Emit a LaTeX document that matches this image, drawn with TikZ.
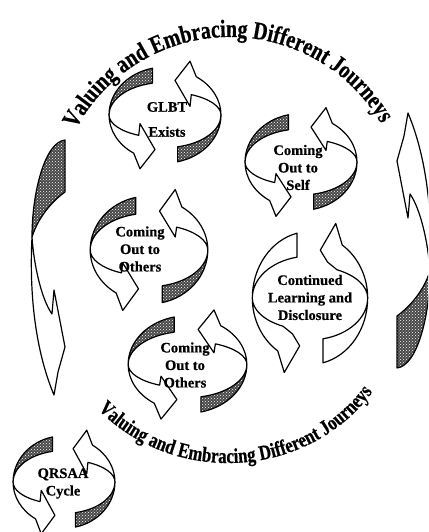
\documentclass[tikz,border=0pt]{standalone}
\usepackage{fontspec}
\setmainfont{Liberation Serif}
\newfontfamily\arcfont{Liberation Serif}[UprightFont={* Bold},FakeStretch=0.8,FakeBold=0.6]
\newfontfamily\labelfont{Liberation Serif}[UprightFont={* Bold},FakeBold=0.5]
\usetikzlibrary{decorations.text,patterns}

\tikzset{
  arrowface/.style={draw=black,fill=white,line width=1.2pt,line join=round},
  speckle/.style={draw=black,line width=1.2pt,line join=round,
    preaction={fill=black!72},pattern=crosshatch dots,pattern color=white},
  cyclelabel/.style={align=center,font=\labelfont\fontsize{14.5}{17.5}\selectfont},
  % two twisted ribbon arrows chasing each other round an ellipse
  % #1 tail style, #2 inner radius of the tail, #3 inner barb of the head
  pics/cyclearrows/.style n args={3}{code={
    \foreach \r in {0,180}{
      \begin{scope}[rotate=\r]
        \draw[#1] (103:56 and 50) arc[start angle=103,end angle=180,x radius=56,y radius=50]
          arc[start angle=180,end angle=103,x radius=56,y radius=#2] -- cycle;
        \draw[arrowface] (-56,0) arc[start angle=180,end angle=236,x radius=56,y radius=48]
          -- (-25,-56) -- (-10,-36) -- #3 -- (242:56 and 24)
          arc[start angle=242,end angle=180,x radius=56,y radius=24] -- cycle;
      \end{scope}
    }
  }}
}

\begin{document}
\begin{tikzpicture}[x=1pt,y=1pt]
  \clip (0,0) rectangle (428,532);
  \fill[white] (0,0) rectangle (428,532);

  % Big journey arrows round the whole picture
  \foreach \r in {0,180}{
    \begin{scope}[rotate around={\r:(231,278)}]
      \draw[speckle] (65,392) .. controls (45,390) and (32,340) .. (32,295)
        .. controls (40,320) and (58,335) .. (65,340) -- cycle;
      \draw[arrowface] (32,295) .. controls (29,235) and (36,180) .. (54,137)
        -- (58,160) -- (65,185) -- (54,242) -- (52,218)
        .. controls (42,232) and (34,265) .. (32,295) -- cycle;
    \end{scope}
  }

  % Arched titles
  \path[decorate,decoration={text along path,text align=center,
      text={|\arcfont\fontsize{25}{25}\selectfont|Valuing and Embracing Different Journeys}}]
    (64.53,376.97) arc[start angle=161,end angle=21,radius=175];
  \path[decorate,decoration={text along path,text align=center,
      text={|\arcfont\fontsize{21}{21}\selectfont|Valuing and Embracing Different Journeys}}]
    (68.1,165.7) arc[start angle=204,end angle=344,x radius=175,y radius=163];

  % Small cycles
  \pic[yscale=0.96] at (165,417) {cyclearrows={speckle}{34}{(-25,-9)}};
  \pic[yscale=0.97] at (301,370) {cyclearrows={speckle}{34}{(-25,-12)}};
  \pic[xscale=1.05,yscale=1.08] at (149,282) {cyclearrows={speckle}{34}{(-25,-12)}};
  \pic[xscale=1.03,yscale=1.33] at (310,234) {cyclearrows={arrowface}{31.5}{(-17,-27)}};
  \pic[xscale=1.06,yscale=0.975] at (187.5,167.5) {cyclearrows={speckle}{34}{(-25,-12)}};
  \pic[xscale=0.91,yscale=0.925] at (64,50) {cyclearrows={speckle}{34}{(-25,-9)}};

  % Labels
  \node[cyclelabel] (glbt) at (167,412.5) {GLBT\\[7.5pt]Exists};
  \node[cyclelabel] (self) at (298,364.5) {Coming\\Out to\\Self};
  \node[cyclelabel] (others) at (140,283) {Coming\\Out to\\Others};
  \node[cyclelabel] (learning) at (310,234.5) {Continued\\Learning and\\Disclosure};
  \node[cyclelabel] (othersb) at (185,167) {Coming\\Out to\\Others};
  \node[cyclelabel] (qrsaa) at (63,48.5) {QRSAA\\Cycle};
\end{tikzpicture}
\end{document}
